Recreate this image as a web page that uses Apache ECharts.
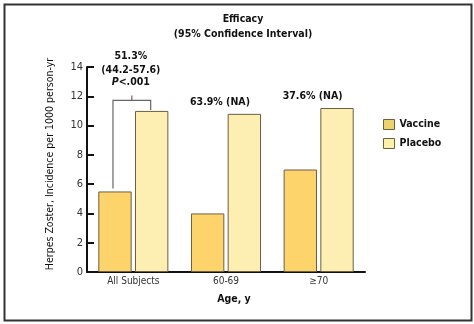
<!DOCTYPE html>
<html>
<head>
<meta charset="utf-8">
<script src="https://cdn.jsdelivr.net/npm/echarts@6/dist/echarts.min.js"></script>
<style>
html,body{margin:0;padding:0;background:#fff;}
#c{width:474px;height:324px;}
</style>
</head>
<body>
<div id="c"></div>
<script>
const categories = ['All Subjects', '60-69', '\u226570'];
const vaccine = [5.5, 4.0, 7.0];
const placebo = [11.0, 10.8, 11.2];
const efficacyLabels = ['51.3%', '63.9% (NA)', '37.6% (NA)'];
const ciLabel = '(44.2-57.6)';
const yTicks = { min: 0, max: 14, interval: 2 };

const FONT = '"Liberation Sans Narrow", "DejaVu Sans Condensed", "Noto Sans", sans-serif';
const BOLD = 'bold 10.5px ' + FONT;

const chart = echarts.init(document.getElementById('c'), null, { renderer: 'canvas' });

function renderAnnot(params, api) {
  const i = params.dataIndex;
  const bandW = api.size([1, 0])[0];
  const bw = bandW * 0.36;
  const off = bw * 0.55;
  const p = api.coord([i, placebo[i]]);
  const v = api.coord([i, vaccine[i]]);
  const children = [];
  const txt = (x, y, text, extra) => ({
    type: 'text',
    x: x, y: y,
    style: Object.assign({
      text: text, fill: '#111', font: BOLD,
      align: 'center', verticalAlign: 'middle'
    }, extra || {})
  });
  if (i === 0) {
    const topY = p[1] - 10.5;
    const lx = p[0] - off - 2, rx = p[0] + off - 1;
    const cx = p[0] - 1.5;
    children.push({
      type: 'polyline',
      shape: { points: [[lx, v[1] - 3], [lx, topY], [rx, topY], [rx, p[1] - 1]] },
      style: { stroke: '#666', lineWidth: 1.2, fill: null }
    });
    children.push({
      type: 'line',
      shape: { x1: cx, y1: topY, x2: cx, y2: topY - 5 },
      style: { stroke: '#666', lineWidth: 1.2 }
    });
    children.push(txt(cx - 1, topY - 44, efficacyLabels[0]));
    children.push(txt(cx - 1, topY - 30, ciLabel));
    children.push({
      type: 'text', x: cx - 1, y: topY - 18,
      style: {
        text: '{i|P}{n|<.001}', align: 'center', verticalAlign: 'middle',
        rich: {
          i: { font: 'italic bold 10.5px ' + FONT, fill: '#111' },
          n: { font: BOLD, fill: '#111' }
        }
      }
    });
  } else {
    children.push(txt(p[0] - 6, p[1] - 11.5, efficacyLabels[i]));
  }
  return { type: 'group', children: children };
}

chart.setOption({
  animation: false,
  backgroundColor: '#fff',
  textStyle: { fontFamily: FONT },
  title: {
    text: 'Efficacy\n(95% Confidence Interval)',
    left: 243, top: 12, padding: 0, textAlign: 'center',
    textStyle: { fontFamily: FONT, fontWeight: 'bold', fontSize: 10.5, lineHeight: 15, color: '#111' }
  },
  graphic: [{
    type: 'rect', left: 2, top: 2, silent: true,
    shape: { width: 467, height: 316 },
    style: { fill: null, stroke: '#333', lineWidth: 2 }
  }],
  legend: {
    orient: 'vertical', left: 383, top: 119, padding: 0,
    itemWidth: 11, itemHeight: 10, itemGap: 8, icon: 'rect',
    textStyle: { fontFamily: FONT, fontWeight: 'bold', fontSize: 10.5, color: '#111' },
    data: [
      { name: 'Vaccine', itemStyle: { color: '#ecd36c', borderColor: '#6d5f3f', borderWidth: 1 } },
      { name: 'Placebo', itemStyle: { color: '#fbf2aa', borderColor: '#6d5f3f', borderWidth: 1 } }
    ]
  },
  grid: { left: 87, right: 109, top: 67, bottom: 52, containLabel: false },
  xAxis: {
    type: 'category', data: categories,
    name: 'Age, y', nameLocation: 'middle', nameGap: 22,
    nameTextStyle: { fontFamily: FONT, fontWeight: 'bold', fontSize: 10.5, color: '#111', padding: [0, 0, 0, 16] },
    axisLine: { lineStyle: { color: '#111', width: 2 } },
    axisTick: { inside: true, length: 6, lineStyle: { color: '#111', width: 2 } },
    axisLabel: { margin: 4, fontFamily: FONT, fontSize: 10, color: '#333' }
  },
  yAxis: {
    type: 'value', min: yTicks.min, max: yTicks.max, interval: yTicks.interval,
    name: 'Herpes Zoster, Incidence per 1000 person-yr', nameLocation: 'middle', nameGap: 31,
    nameTextStyle: { fontFamily: FONT, fontSize: 10.5, color: '#111', padding: [0, 0, 0, 11] },
    axisLine: { show: true, lineStyle: { color: '#111', width: 2 } },
    axisTick: { show: true, inside: true, length: 7, lineStyle: { color: '#111', width: 2 } },
    axisLabel: { margin: 4, fontFamily: FONT, fontSize: 11, color: '#333' },
    splitLine: { show: false }
  },
  series: [
    {
      name: 'Vaccine', type: 'bar', data: vaccine,
      barWidth: '36%', barGap: '10%',
      itemStyle: { color: '#fdd36c', borderColor: '#6d5f3f', borderWidth: 1 }
    },
    {
      name: 'Placebo', type: 'bar', data: placebo,
      barWidth: '36%', barGap: '10%',
      itemStyle: { color: '#fdefb2', borderColor: '#6d5f3f', borderWidth: 1 }
    },
    {
      name: 'annot', type: 'custom', silent: true, clip: false, z: 10,
      data: categories.map((c, i) => [i, placebo[i]]),
      encode: { x: 0, y: 1 },
      renderItem: renderAnnot
    }
  ]
});
</script>
</body>
</html>
